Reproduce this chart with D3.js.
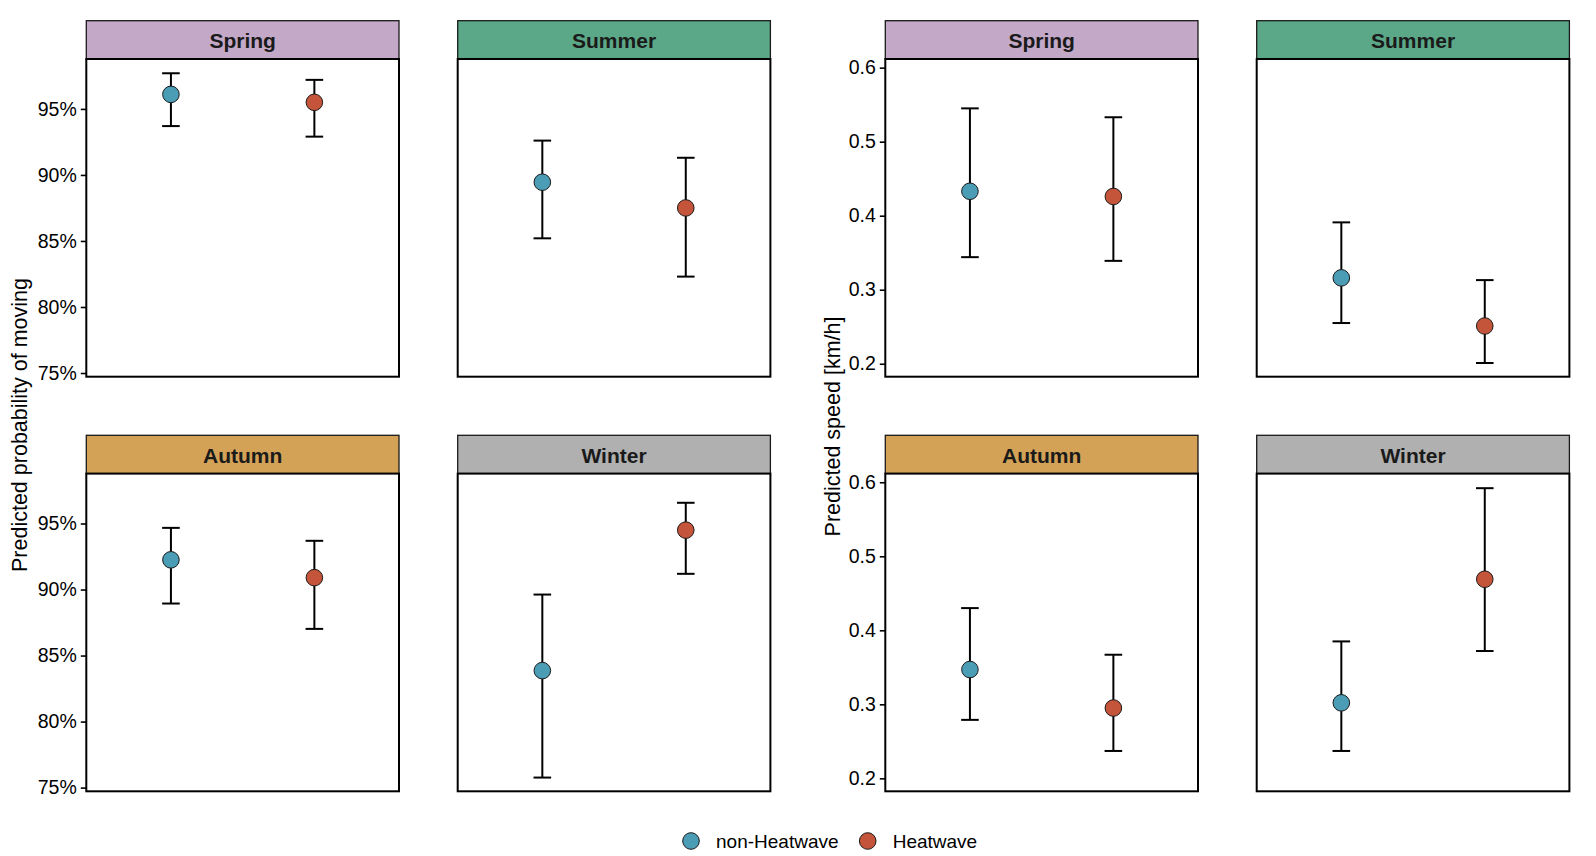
<!DOCTYPE html>
<html lang="en">
<head>
  <meta charset="UTF-8">
  <title>Heatwave predictions by season</title>
  <style>
    body { margin: 0; background: #fff; }
    svg text { font-family: "Liberation Sans", Arial, sans-serif; }
  </style>
</head>
<body>
  <svg id="svg" width="1596" height="856"></svg>

  <script src="https://d3js.org/d3.v7.min.js"></script>
  <script>
    // ------ DATA ------------------------
    const seasons = ['Spring', 'Summer', 'Autumn', 'Winter']
    const groups = ['non-Heatwave', 'Heatwave']

    // predicted probability of moving (%), [non-Heatwave, Heatwave] per season
    const probEst = [[96.1, 95.5], [89.45, 87.5], [92.25, 90.9], [83.86, 94.5]]
    const probLow = [[93.7, 92.9], [85.2, 82.3], [88.94, 87.02], [75.76, 91.19]]
    const probHigh = [[97.7, 97.2], [92.6, 91.3], [94.67, 93.69], [89.62, 96.57]]
    const probTicks = [75, 80, 85, 90, 95]

    // predicted speed (km/h)
    const speedEst = [[0.433, 0.426], [0.316, 0.251], [0.347, 0.295], [0.302, 0.469]]
    const speedLow = [[0.344, 0.339], [0.255, 0.201], [0.279, 0.237], [0.237, 0.372]]
    const speedHigh = [[0.545, 0.533], [0.391, 0.313], [0.430, 0.367], [0.385, 0.592]]
    const speedTicks = [0.2, 0.3, 0.4, 0.5, 0.6]

    const stripColors = ['#C3A8C8', '#5BA888', '#D4A257', '#B0B0B0']
    const groupColors = ['#4B9CB5', '#C4543A']

    // ------ LAYOUT ------------------------
    const panelW = 312.7
    const stripH = 38.3
    const panelH = 317.7
    const colLeft = { prob: [86.3, 457.7], speed: [885.3, 1256.7] }
    const rowTop = [20.7, 435.3]

    const svg = d3.select('#svg')

    const x = d3.scalePoint()
      .domain(groups)
      .range([0, panelW])
      .padding(0.59)

    const yProb = d3.scaleLinear().domain([74.72, 98.78]).range([panelH, 0])
    const ySpeed = d3.scaleLinear().domain([0.1825, 0.6117]).range([panelH, 0])

    const color = d3.scaleOrdinal().domain(groups).range(groupColors)

    function drawBlock(key, y, est, low, high, ticks, fmt) {
      seasons.forEach((s, i) => {
        const row = Math.floor(i / 2)
        const col = i % 2
        const g = svg.append('g')
          .attr('transform', `translate(${colLeft[key][col]}, ${rowTop[row]})`)

        // strip
        g.append('rect')
          .attr('width', panelW)
          .attr('height', stripH)
          .attr('fill', stripColors[i])
          .attr('stroke', '#1a1a1a')
          .attr('stroke-width', 1.3)
        g.append('text')
          .attr('x', panelW / 2)
          .attr('y', stripH / 2)
          .attr('dy', '0.4em')
          .attr('text-anchor', 'middle')
          .attr('font-size', 21)
          .attr('font-weight', 'bold')
          .attr('fill', '#1a1a1a')
          .text(s)

        const p = g.append('g').attr('transform', `translate(0, ${stripH})`)
        p.append('rect')
          .attr('width', panelW)
          .attr('height', panelH)
          .attr('fill', '#fff')
          .attr('stroke', '#000')
          .attr('stroke-width', 2)

        // y axis only on the left column
        if (col === 0) {
          const ax = p.append('g')
            .call(d3.axisLeft(y).tickValues(ticks).tickFormat(fmt).tickSize(5.5).tickPadding(4))
          ax.select('.domain').remove()
          ax.selectAll('line').attr('stroke', '#000').attr('stroke-width', 1.6)
          ax.selectAll('text')
            .attr('font-size', 19.5)
            .attr('fill', '#000')
            .style('font-family', '"Liberation Sans", Arial, sans-serif')
        }

        const pts = groups.map((gr, j) => ({
          group: gr, est: est[i][j], low: low[i][j], high: high[i][j]
        }))

        const bars = p.selectAll('g.bar')
          .data(pts)
          .join('g')
          .attr('class', 'bar')
          .attr('transform', d => `translate(${x(d.group)}, 0)`)

        bars.append('line')
          .attr('y1', d => y(d.low))
          .attr('y2', d => y(d.high))
          .attr('stroke', '#000')
          .attr('stroke-width', 2)
        bars.append('line')
          .attr('x1', -8.8).attr('x2', 8.8)
          .attr('y1', d => y(d.high)).attr('y2', d => y(d.high))
          .attr('stroke', '#000')
          .attr('stroke-width', 2)
        bars.append('line')
          .attr('x1', -8.8).attr('x2', 8.8)
          .attr('y1', d => y(d.low)).attr('y2', d => y(d.low))
          .attr('stroke', '#000')
          .attr('stroke-width', 2)
        bars.append('circle')
          .attr('cy', d => y(d.est))
          .attr('r', 8.3)
          .attr('fill', d => color(d.group))
          .attr('stroke', '#1a1a1a')
          .attr('stroke-width', 1)
      })
    }

    drawBlock('prob', yProb, probEst, probLow, probHigh, probTicks, d => d + '%')
    drawBlock('speed', ySpeed, speedEst, speedLow, speedHigh, speedTicks, d3.format('.1f'))

    // axis titles
    svg.append('text')
      .attr('transform', 'translate(27, 425) rotate(-90)')
      .attr('text-anchor', 'middle')
      .attr('font-size', 21.5)
      .attr('fill', '#000')
      .text('Predicted probability of moving')

    svg.append('text')
      .attr('transform', 'translate(840, 426.5) rotate(-90)')
      .attr('text-anchor', 'middle')
      .attr('font-size', 21.5)
      .attr('fill', '#000')
      .text('Predicted speed [km/h]')

    // legend
    const legendX = [691, 867.7]
    const legend = svg.selectAll('g.legend')
      .data(groups)
      .join('g')
      .attr('class', 'legend')
      .attr('transform', (d, i) => `translate(${legendX[i]}, 841)`)
    legend.append('circle')
      .attr('r', 8.3)
      .attr('fill', d => color(d))
      .attr('stroke', '#1a1a1a')
      .attr('stroke-width', 1)
    legend.append('text')
      .attr('x', 25)
      .attr('dy', '0.36em')
      .attr('font-size', 19)
      .attr('fill', '#000')
      .text(d => d)
  </script>
</body>
</html>
